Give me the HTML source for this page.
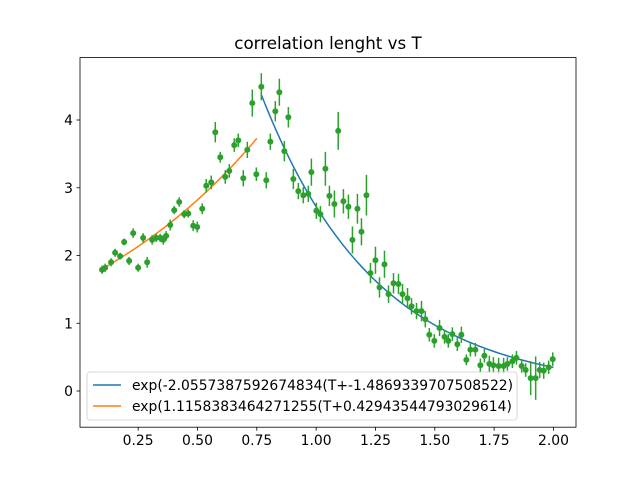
<!DOCTYPE html>
<html><head><meta charset="utf-8"><style>
body{margin:0;background:#fff}
svg{display:block;font-family:"DejaVu Sans","Liberation Sans",sans-serif}
</style></head><body>
<svg id="chart" width="640" height="480">
<rect x="0" y="0" width="640" height="480" fill="#fff"/>
<text x="328" y="49" font-size="16.7" text-anchor="middle">correlation lenght vs T</text>
<g id="plot"></g>
<rect x="80" y="57.6" width="496" height="369.6" fill="none" stroke="#000" stroke-width="0.8"/>
</svg>
<script>
const T=[.098,.111,.136,.153,.174,.191,.212,.229,.250,.271,.288,.309,.326,.343,.356,.368,.385,.402,.423,.444,.461,.482,.499,.520,.537,.558,.575,.596,.617,.634,.655,.672,.693,.710,.731,.748,.769,.790,.807,.828,.845,.866,.883,.904,.925,.946,.967,.980,1.001,1.018,1.039,1.056,1.077,1.093,1.115,1.136,1.153,1.174,1.191,1.212,1.229,1.250,1.267,1.288,1.305,1.326,1.347,1.364,1.385,1.402,1.423,1.444,1.460,1.477,1.498,1.520,1.541,1.557,1.574,1.595,1.612,1.633,1.650,1.671,1.692,1.709,1.730,1.747,1.769,1.790,1.806,1.827,1.844,1.866,1.883,1.904,1.925,1.942,1.959,1.980,1.997];
const Y=[1.79,1.82,1.90,2.04,1.99,2.20,1.92,2.33,1.82,2.26,1.90,2.23,2.26,2.26,2.23,2.29,2.45,2.67,2.79,2.61,2.62,2.44,2.42,2.69,3.03,3.08,3.82,3.45,3.16,3.25,3.63,3.70,3.14,3.56,4.25,3.20,4.49,3.11,3.68,4.13,4.41,3.54,4.04,3.13,2.95,2.89,2.91,3.23,2.66,2.61,3.28,2.88,2.76,3.84,2.80,2.72,2.23,2.69,2.35,2.89,1.74,1.93,1.53,1.87,1.43,1.59,1.58,1.43,1.37,1.25,1.18,1.18,1.06,0.83,0.74,0.93,0.80,0.74,0.84,0.69,0.83,0.46,0.61,0.61,0.38,0.52,0.40,0.38,0.37,0.37,0.40,0.44,0.49,0.37,0.31,0.19,0.19,0.31,0.30,0.35,0.47];
const E=[.06,.06,.06,.06,.05,.05,.06,.07,.06,.07,.08,.07,.06,.06,.07,.07,.08,.06,.07,.06,.06,.08,.08,.08,.1,.1,.15,.08,.1,.1,.1,.1,.12,.12,.2,.1,.2,.12,.12,.15,.2,.15,.15,.15,.12,.12,.12,.2,.12,.12,.25,.15,.2,.28,.18,.18,.2,.22,.2,.3,.15,.2,.15,.2,.13,.15,.15,.15,.15,.12,.12,.15,.12,.1,.1,.12,.1,.1,.1,.1,.12,.08,.1,.1,.1,.1,.12,.12,.12,.12,.1,.1,.1,.1,.1,.25,.32,.12,.12,.1,.1];
const xTicks=[0.25,0.5,0.75,1.0,1.25,1.5,1.75,2.0];
const xTickLabels=["0.25","0.50","0.75","1.00","1.25","1.50","1.75","2.00"];
const yTicks=[0,1,2,3,4];
const yTickLabels=["0","1","2","3","4"];
const fit1=[-2.0557387592674834,-1.4869339707508522,0.77,2.0];
const fit2=[1.1158383464271255,0.42943544793029614,0.1,0.75];
const legendLabels=["exp(-2.0557387592674834(T+-1.4869339707508522)","exp(1.1158383464271255(T+0.42943544793029614)"];
const X0=0.005,X1=2.095,Y0=-0.534,Y1=4.921;
const sx=v=>80+(v-X0)/(X1-X0)*496;
const sy=v=>427.2-(v-Y0)/(Y1-Y0)*369.6;
const NS="http://www.w3.org/2000/svg";
const g=document.getElementById('plot');
function mk(tag,attrs,parent){const e=document.createElementNS(NS,tag);for(const k in attrs)e.setAttribute(k,attrs[k]);(parent||g).appendChild(e);return e;}
xTicks.forEach((t,i)=>{
  const l=mk('line',{x1:sx(t),x2:sx(t),y1:427.2,y2:430.7,stroke:'#000','stroke-width':0.8});
  
  
  const tx=mk('text',{x:sx(t),y:445,'font-size':13.9,'text-anchor':'middle'});
  tx.textContent=xTickLabels[i];
  
  
});
yTicks.forEach((t,i)=>{
  const l=mk('line',{x1:76.5,x2:80,y1:sy(t),y2:sy(t),stroke:'#000','stroke-width':0.8});
  
  
  const tx=mk('text',{x:73,y:sy(t)+5,'font-size':13.9,'text-anchor':'end'});
  tx.textContent=yTickLabels[i];
  
  
});
function curve(f,color,name){
  let d='';
  for(let i=0;i<=100;i++){const t=f[2]+(f[3]-f[2])*i/100;d+=(i?'L':'M')+sx(t).toFixed(2)+','+sy(Math.exp(f[0]*(t+f[1]))).toFixed(2);}
  const p=mk('path',{d:d,fill:'none',stroke:color,'stroke-width':1.5});
  
  
}
curve(fit1,'#1f77b4','fit-curve-high-t');
curve(fit2,'#ff7f0e','fit-curve-low-t');
T.forEach((t,i)=>{
  const l=mk('line',{x1:sx(t),x2:sx(t),y1:sy(Y[i]-E[i]),y2:sy(Y[i]+E[i]),stroke:'#2ca02c','stroke-width':1.5});
  
  
  const c=mk('circle',{cx:sx(t),cy:sy(Y[i]),r:3,fill:'#2ca02c'});
  
  
});
const lg=mk('g',{});


mk('rect',{x:87,y:372,width:430,height:48,rx:3,fill:'#fff','fill-opacity':0.8,stroke:'#ccc','stroke-width':0.8},lg);
['#1f77b4','#ff7f0e'].forEach((c,i)=>{
  const yy=385+i*21;
  const l=mk('line',{x1:93,x2:121,y1:yy,y2:yy,stroke:c,'stroke-width':1.5},lg);
  
  
  const tx=mk('text',{x:132,y:yy+5,'font-size':13.9},lg);
  tx.textContent=legendLabels[i];
  
  
});
</script>
</body></html>
